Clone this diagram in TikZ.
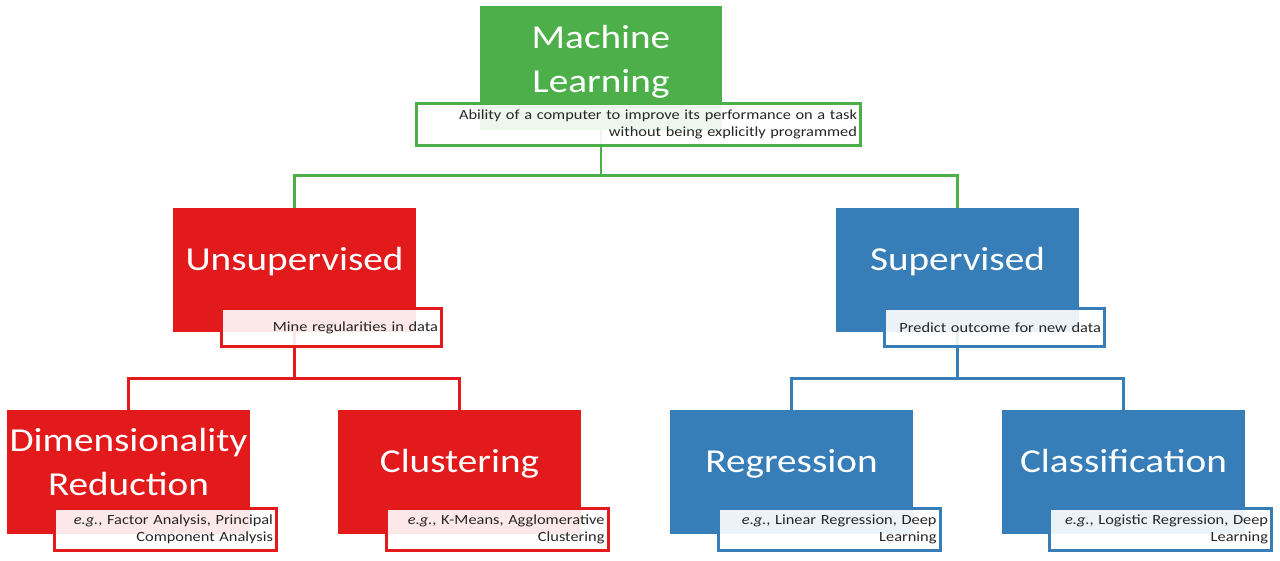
\documentclass[tikz,border=0pt]{standalone}
\usepackage{fontspec}
\setmainfont{Carlito}[FakeStretch=1.17]
\definecolor{mlgreen}{RGB}{77,175,74}
\definecolor{mlred}{RGB}{227,26,28}
\definecolor{mlblue}{RGB}{55,126,184}
\definecolor{desctext}{RGB}{38,38,38}
\begin{document}
\begin{tikzpicture}[x=1pt,y=-1pt,
  bigbox/.style={draw=none, fill=#1, minimum width=243pt, minimum height=124pt, inner sep=0pt},
  bigtext/.style={text=white, font=\fontsize{33.5}{44}\selectfont, align=center, inner sep=0pt},
  descbox/.style={draw=#1, line width=3pt, fill=white, fill opacity=0.9, text opacity=1,
    text=desctext, font=\fontsize{14}{17}\selectfont, align=right, inner xsep=3.5pt, inner ysep=0pt},
  conn/.style={draw=#1, line width=2.8pt}
]
\useasboundingbox (0,0) rectangle (1280,560);

% big boxes
\node[bigbox=mlgreen, minimum width=242pt] (ml) at (601,68) {};
\node[bigbox=mlred] (un) at (294.5,270) {};
\node[bigbox=mlblue] (sup) at (957.5,270) {};
\node[bigbox=mlred] (dim) at (128.5,472) {};
\node[bigbox=mlred] (clu) at (459.5,472) {};
\node[bigbox=mlblue] (reg) at (791.5,472) {};
\node[bigbox=mlblue] (cls) at (1123.5,472) {};

% titles
\node[bigtext] (mlt) at ([yshift=-56pt]ml.north) {Machine\\Learning};
\node[bigtext, anchor=base] (unt) at ([yshift=-63pt]un.north) {Unsupervised};
\node[bigtext, anchor=base] (supt) at ([yshift=-63pt]sup.north) {Supervised};
\node[bigtext] (dimt) at ([yshift=-52pt]dim.north) {Dimensionality\\Reduction};
\node[bigtext, anchor=base] (clut) at ([yshift=-63pt]clu.north) {Clustering};
\node[bigtext, anchor=base] (regt) at ([yshift=-63pt]reg.north) {Regression};
\node[bigtext, anchor=base] (clst) at ([yshift=-63pt]cls.north) {Classification};

% connectors
\draw[conn=mlgreen] (ml.south) -- ++(0,45) -| (un.north);
\draw[conn=mlgreen] (ml.south) -- ++(0,45) -| (sup.north);
\draw[conn=mlred] (un.south) -- ++(0,46) -| (dim.north);
\draw[conn=mlred] (un.south) -- ++(0,46) -| (clu.north);
\draw[conn=mlblue] (sup.south) -- ++(0,46) -| (reg.north);
\draw[conn=mlblue] (sup.south) -- ++(0,46) -| (cls.north);

% description boxes
\node[descbox=mlgreen, text width=437pt, minimum height=42pt] (mld) at (638.5,124.5)
  {Ability of a computer to improve its performance on a task\\without being explicitly programmed};
\node[descbox=mlred, text width=213pt, minimum height=38pt] (und) at (331.5,327.5)
  {Mine regularities in data};
\node[descbox=mlblue, text width=213pt, minimum height=38pt] (supd) at (994.5,327.5)
  {Predict outcome for new data};
\node[descbox=mlred, text width=215pt, minimum height=42pt] (dimd) at (165.5,529.5)
  {\textit{e.g.}, Factor Analysis, Principal\\Component Analysis};
\node[descbox=mlred, text width=215pt, minimum height=42pt] (clud) at (497,529.5)
  {\textit{e.g.}, K-Means, Agglomerative\\Clustering};
\node[descbox=mlblue, text width=215pt, minimum height=42pt] (regd) at (829,529.5)
  {\textit{e.g.}, Linear Regression, Deep\\Learning};
\node[descbox=mlblue, text width=215pt, minimum height=42pt] (clsd) at (1160.5,529.5)
  {\textit{e.g.}, Logistic Regression, Deep\\Learning};
\end{tikzpicture}
\end{document}
